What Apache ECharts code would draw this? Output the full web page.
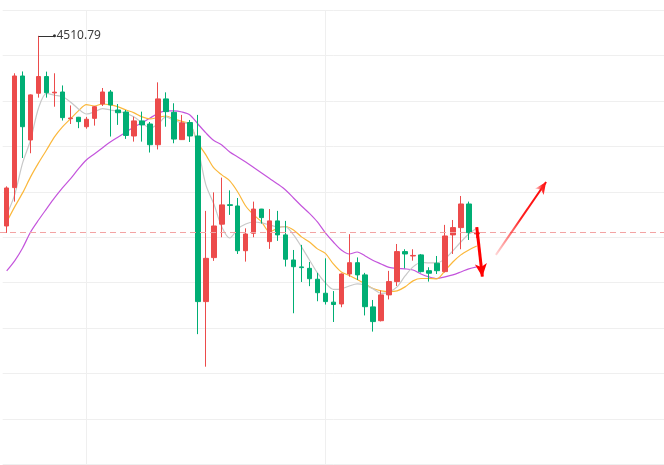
<!DOCTYPE html>
<html><head><meta charset="utf-8">
<script src="https://cdn.jsdelivr.net/npm/echarts@6/dist/echarts.min.js"></script>
<style>html,body{margin:0;padding:0;background:#fff}#c{width:664px;height:465px}</style>
</head><body><div id="c"></div>
<script>
// ---- data ----
const slotCount = 83;
const categories = Array.from({length: slotCount}, (_, i) => 'K' + (i + 1));
// [open, close, low, high]
const candles = [
  [4406.2, 4427.1, 4402.4, 4428.0],
  [4427.3, 4488.7, 4419.6, 4490.2],
  [4488.7, 4460.8, 4443.6, 4491.2],
  [4453.5, 4478.3, 4446.2, 4478.6],
  [4479.2, 4488.4, 4476.8, 4510.79],
  [4488.4, 4479.5, 4476.8, 4491.1],
  [4479.4, 4479.8, 4471.8, 4490.2],
  [4479.9, 4465.8, 4464.2, 4483.5],
  [4465.2, 4465.6, 4462.3, 4472.5],
  [4466.0, 4463.6, 4460.0, 4466.2],
  [4460.8, 4464.9, 4459.7, 4466.2],
  [4465.4, 4471.8, 4461.4, 4472.2],
  [4473.3, 4479.9, 4472.2, 4482.1],
  [4479.9, 4472.8, 4455.4, 4481.0],
  [4470.0, 4468.5, 4461.8, 4473.3],
  [4468.9, 4456.0, 4454.1, 4470.0],
  [4455.7, 4464.0, 4452.6, 4466.3],
  [4464.0, 4461.8, 4452.6, 4469.1],
  [4462.3, 4450.9, 4446.6, 4463.4],
  [4450.9, 4476.1, 4448.3, 4485.2],
  [4476.1, 4469.1, 4460.8, 4479.7],
  [4468.7, 4454.0, 4451.7, 4473.7],
  [4453.7, 4462.9, 4453.5, 4467.3],
  [4463.1, 4455.7, 4452.4, 4464.5],
  [4455.7, 4364.6, 4346.7, 4467.3],
  [4364.6, 4388.4, 4328.8, 4414.5],
  [4388.8, 4406.2, 4387.0, 4424.7],
  [4407.2, 4417.8, 4400.0, 4432.8],
  [4417.9, 4417.5, 4412.3, 4425.8],
  [4417.2, 4392.6, 4390.8, 4421.6],
  [4392.6, 4401.8, 4386.6, 4404.9],
  [4402.2, 4415.5, 4400.0, 4419.6],
  [4415.5, 4410.8, 4407.5, 4415.6],
  [4397.6, 4409.0, 4393.6, 4415.5],
  [4409.0, 4401.3, 4398.0, 4414.5],
  [4401.3, 4387.9, 4383.9, 4409.0],
  [4387.5, 4383.8, 4358.2, 4393.0],
  [4383.7, 4383.3, 4375.4, 4395.8],
  [4382.9, 4377.2, 4373.1, 4386.4],
  [4376.9, 4369.5, 4364.8, 4380.4],
  [4369.2, 4364.6, 4363.0, 4388.4],
  [4364.3, 4363.0, 4353.4, 4370.4],
  [4363.3, 4379.8, 4361.5, 4380.1],
  [4379.8, 4386.0, 4378.3, 4401.7],
  [4386.0, 4379.3, 4376.5, 4388.9],
  [4379.3, 4361.8, 4357.0, 4380.4],
  [4361.7, 4353.6, 4348.1, 4365.5],
  [4354.1, 4368.3, 4353.7, 4370.7],
  [4368.3, 4375.6, 4365.8, 4381.5],
  [4375.6, 4392.1, 4373.2, 4396.3],
  [4392.1, 4390.8, 4382.9, 4393.4],
  [4389.7, 4390.0, 4387.1, 4393.4],
  [4390.3, 4381.1, 4380.6, 4390.8],
  [4381.6, 4380.2, 4375.6, 4383.5],
  [4385.7, 4381.6, 4379.8, 4389.7],
  [4381.1, 4400.7, 4380.6, 4406.8],
  [4401.3, 4405.3, 4390.8, 4409.5],
  [4405.3, 4418.3, 4393.4, 4422.7],
  [4418.3, 4402.5, 4398.5, 4419.6],
  [4401.8, 4402.5, 4399.5, 4404.0]
];
const ma5 = [4412.3,4423.3,4440.9,4453.5,4471.1,4479.1,4478.1,4477.4,4474.4,4470.6,
  4467.8,4468.9,4470.8,4470.0,4469.2,4468.1,4466.2,4462.9,4460.1,4462.3,
  4466.2,4464.2,4462.9,4462.3,4449.1,4428.8,4418.3,4405.7,4399.6,4404.6,
  4407.3,4408.4,4407.9,4406.8,4405.7,4405.7,4401.3,4394.7,4387.5,4380.4,
  4374.9,4371.3,4371.6,4373.2,4374.3,4373.5,4371.6,4369.1,4369.9,4372.7,
  4378.7,4383.7,4386.1,4385.9,4385.9,4388.1,4392.5,4397.4,4401.8,4405.1];
const ma10 = [4408.4,4416.7,4424.4,4433.2,4440.9,4448.0,4455.2,4460.7,4465.1,4469.5,
  4473.0,4472.2,4473.3,4472.8,4471.7,4470.0,4468.4,4466.2,4465.1,4465.9,
  4466.7,4465.1,4463.7,4462.3,4451.9,4445.3,4438.1,4434.3,4431.0,4424.9,
  4417.2,4412.3,4408.4,4402.9,4405.1,4405.9,4404.0,4400.2,4397.4,4393.6,
  4391.1,4385.3,4380.9,4379.0,4376.8,4374.3,4371.8,4370.5,4370.1,4370.5,
  4372.7,4376.0,4377.3,4377.3,4377.1,4381.5,4386.4,4390.3,4393.0,4395.2];
const ma20 = [4381.5,4387.0,4394.1,4402.9,4409.5,4415.6,4421.6,4427.1,4432.1,4437.6,
  4442.5,4445.8,4449.1,4452.4,4455.2,4457.9,4460.7,4462.9,4465.6,4468.1,
  4469.5,4469.5,4468.9,4467.3,4462.3,4457.4,4453.2,4450.8,4446.9,4444.2,
  4441.4,4438.4,4435.4,4432.3,4429.3,4426.0,4421.6,4417.2,4413.1,4408.4,
  4402.4,4397.4,4393.0,4390.8,4391.9,4389.7,4387.2,4385.3,4383.4,4382.8,
  4382.6,4382.0,4379.8,4378.2,4377.3,4378.2,4379.3,4380.9,4382.6,4383.7];
const yMin = 4275, yMax = 4525, yStep = 25;
const highIndex = 4, highValue = 4510.79;
const lastPrice = 4402.5;
const splitIdx = [10, 40];
const downArrow = [[59.0, 4405.6], [59.7, 4378.3]];
const upArrow = [[61.4, 4390.3], [67.7, 4430.4]];

// ---- chart ----
const chart = echarts.init(document.getElementById('c'), null, {renderer: 'canvas'});
const gridLine = '#efefef';
chart.setOption({
  animation: false,
  backgroundColor: '#ffffff',
  grid: {left: 2.7, top: 10, width: 664, height: 454.5, containLabel: false},
  xAxis: [{
    type: 'category', data: categories, boundaryGap: true,
    axisLine: {show: false}, axisTick: {show: false, alignWithLabel: true}, axisLabel: {show: false},
    splitLine: {show: true, alignWithLabel: true, interval: (i) => splitIdx.includes(i),
      lineStyle: {color: gridLine, width: 1}}
  }, {
    type: 'value', min: -0.5, max: slotCount - 0.5, show: false, splitLine: {show: false}
  }],
  yAxis: {
    type: 'value', min: yMin, max: yMax, interval: yStep, scale: true,
    axisLine: {show: false}, axisTick: {show: false}, axisLabel: {show: false},
    splitLine: {show: true, lineStyle: {color: gridLine, width: 1}}
  },
  series: [
    {type: 'line', name: 'MA20', data: ma20, symbol: 'none', smooth: 0.3,
      lineStyle: {color: '#c455dc', width: 1.2}, z: 2},
    {type: 'line', name: 'MA10', data: ma10, symbol: 'none', smooth: 0.3,
      lineStyle: {color: '#fbb83c', width: 1.2}, z: 2},
    {type: 'line', name: 'MA5', data: ma5, symbol: 'none', smooth: 0.3,
      lineStyle: {color: '#c8c8c8', width: 1.2}, z: 2},
    {type: 'candlestick', data: candles, barWidth: 5, z: 3,
      itemStyle: {color: '#ec4b4b', color0: '#00ae74', borderColor: '#ec4b4b', borderColor0: '#00ae74', borderWidth: 1}},
    {type: 'line', xAxisIndex: 1, data: [], symbol: 'none', z: 5,
      markLine: {
        silent: true, animation: false,
        label: {show: false},
        data: [
          [{yAxis: lastPrice, x: 0, symbol: 'none', lineStyle: {color: '#f3a3a3', type: [6, 4], width: 1}},
           {yAxis: lastPrice, x: 664, symbol: 'none'}],
          [{coord: [highIndex, highValue], symbol: 'none', lineStyle: {color: '#333333', width: 1, type: 'solid'}},
           {coord: [highIndex + 2.0, highValue], symbol: 'circle', symbolSize: 3,
            label: {show: true, position: 'end', formatter: String(highValue), color: '#3d3d3d',
              fontSize: 12, fontFamily: 'Noto Sans', distance: 2}}],
          [{coord: downArrow[0], symbol: 'none', lineStyle: {color: '#ff0000', width: 3, type: 'solid'}},
           {coord: downArrow[1], symbol: 'arrow', symbolSize: [9, 13]}],
          [{coord: upArrow[0], symbol: 'none', lineStyle: {width: 2, type: 'solid',
              color: {type: 'linear', x: 0, y: 1, x2: 1, y2: 0, colorStops: [
                {offset: 0, color: 'rgba(255,60,60,0.15)'}, {offset: 0.5, color: '#ff2020'}, {offset: 1, color: '#ff0000'}]}}},
           {coord: upArrow[1], symbol: 'arrow', symbolSize: [8, 12]}]
        ]
      }}
  ]
});
</script></body></html>
